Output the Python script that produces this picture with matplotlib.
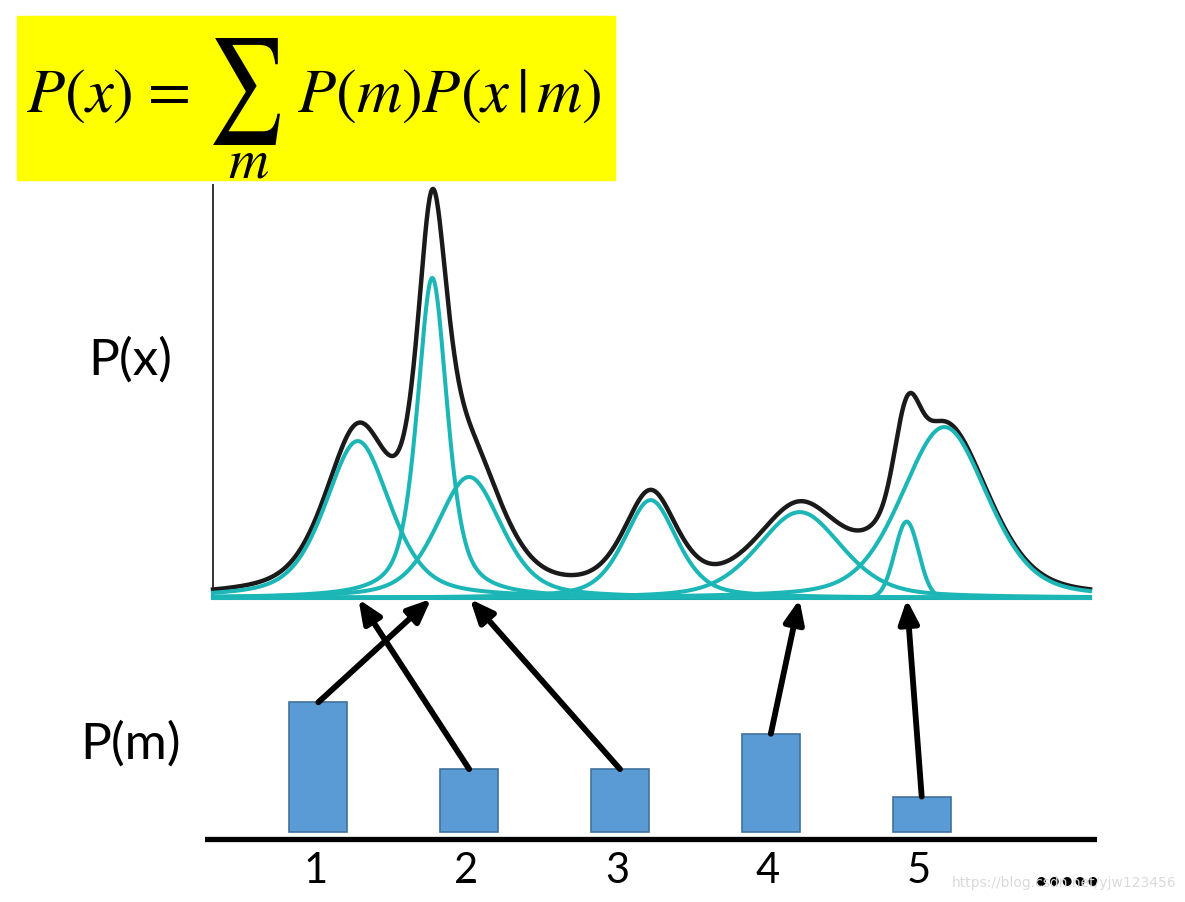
import matplotlib

matplotlib.use("Agg")
import matplotlib.pyplot as plt
import numpy as np
from matplotlib.font_manager import FontProperties
from matplotlib.patches import ConnectionPatch, PathPatch, Rectangle
from matplotlib.textpath import TextPath
from matplotlib.transforms import Affine2D

# mixture components: centre, half width, peak height, lorentzian share
comp_center = [1.65, 2.50, 2.92, 4.99, 6.69, 7.91, 8.34]
comp_width = [0.44, 0.205, 0.44, 0.36, 0.57, 0.16, 0.58]
comp_height = [0.38, 0.775, 0.293, 0.237, 0.208, 0.185, 0.414]
comp_eta = [0.5, 0.6, 0.45, 0.5, 0.4, 0.0, 0.35]

# prior P(m)
bar_labels = ["1", "2", "3", "4", "5"]
bar_values = [0.33, 0.16, 0.16, 0.25, 0.09]
# which component each bar points at
arrow_target = [1, 0, 2, 4, 5]

TEAL = "#1db6b6"
BAR = "#5b9bd5"
BAR_EDGE = "#41719c"
W, H = 1185, 902


def pseudo_voigt(x, c, w, h, eta):
    r = (x - c) / w
    return h * (eta / (1 + r**2) + (1 - eta) * np.exp(-np.log(2) * r**2))


def fx(px):
    return px / W


def fy(py):
    return 1 - py / H


plt.rcParams["mathtext.fontset"] = "stix"
fig = plt.figure(figsize=(W / 100, H / 100), dpi=100)

# formula box
fig.patches.append(
    Rectangle((fx(17), fy(180)), fx(615) - fx(17), fy(16) - fy(180),
              transform=fig.transFigure, color="#ffff00", zorder=0)
)
fig.text(fx(26), fy(112), r"$P(x)$", fontsize=45, va="baseline", ha="left")
fig.text(fx(163), fy(92), r"$=$", fontsize=45, va="center", ha="center")

# tall sum sign, stretched into its box
sig = TextPath((0, 0), "\u2211", size=100, prop=FontProperties(family="STIXGeneral"))
ext = sig.get_extents()
box_l, box_r, box_t, box_b = 213, 280, 38, 145
tr = (Affine2D()
      .translate(-ext.x0, -ext.y0)
      .scale((fx(box_r) - fx(box_l)) / ext.width, (fy(box_t) - fy(box_b)) / ext.height)
      .translate(fx(box_l), fy(box_b)))
fig.patches.append(PathPatch(tr.transform_path(sig), color="black", lw=0,
                             transform=fig.transFigure, zorder=2))
fig.text(fx(249), fy(177), r"$m$", fontsize=40, va="baseline", ha="center")
fig.text(fx(297), fy(112), r"$P(m)P(x\,|\,m)$", fontsize=45, va="baseline", ha="left")

# P(x) panel
ax = fig.add_axes([fx(213), fy(598), fx(1090) - fx(213), fy(185) - fy(598)])
xs = np.linspace(0, 10, 1200)
parts = [pseudo_voigt(xs, c, w, h, e)
         for c, w, h, e in zip(comp_center, comp_width, comp_height, comp_eta)]
ax.plot(xs, np.sum(parts, axis=0), color="#1a1a1a", lw=3.2, clip_on=False, zorder=3)
for p in parts:
    ax.plot(xs, p, color=TEAL, lw=2.9, clip_on=False, zorder=4)
ax.set_xlim(0, 10)
ax.set_ylim(0, 1.0)
ax.set_xticks([])
ax.set_yticks([])
for side in ("top", "right"):
    ax.spines[side].set_visible(False)
ax.spines["left"].set_linewidth(1.4)
ax.spines["left"].set_color("#333333")
ax.spines["bottom"].set_linewidth(2.2)
ax.patch.set_alpha(0)
fig.text(fx(130), fy(360), "P(x)", fontsize=37, family="Lato", ha="center", va="center")

# P(m) panel
scale = 393.0
bx = fig.add_axes([fx(205), fy(845), fx(1097) - fx(205), fy(640) - fy(845)])
pos = np.arange(1, len(bar_values) + 1)
bx.bar(pos, bar_values, width=0.385, color=BAR, edgecolor=BAR_EDGE, lw=1.2, zorder=2)
bx.set_xlim(3 - 415 / 150.85, 3 + 477 / 150.85)
bx.set_ylim(-13 / scale, 192 / scale)
bx.axhline(-7 / scale, color="black", lw=3.8, zorder=1)
bx.axis("off")
for p, lab in zip(pos, bar_labels):
    bx.text(p - 0.02, -0.05, lab, fontsize=30, family="Lato", ha="center", va="top",
            clip_on=False)
bx.text(5.965, -0.128, "·····", fontsize=34, family="Lato", fontweight="bold",
        ha="center", va="center", clip_on=False, zorder=5)
fig.text(fx(131), fy(744), "P(m)", fontsize=37, family="Lato", ha="center", va="center")

for p, v, t in zip(pos, bar_values, arrow_target):
    con = ConnectionPatch(
        xyA=(p, v), coordsA=bx.transData,
        xyB=(comp_center[t], 0), coordsB=ax.transData,
        arrowstyle="-|>,head_length=0.7,head_width=0.3",
        mutation_scale=20, lw=4.2, color="black", shrinkA=0, shrinkB=1,
        zorder=6,
    )
    fig.add_artist(con)

fig.text(fx(1064), fy(883), "https://blog.csdn.net/yjw123456", fontsize=10,
         color="#dadada", ha="center", va="center", zorder=0)

fig.savefig("out.png", dpi=100)
